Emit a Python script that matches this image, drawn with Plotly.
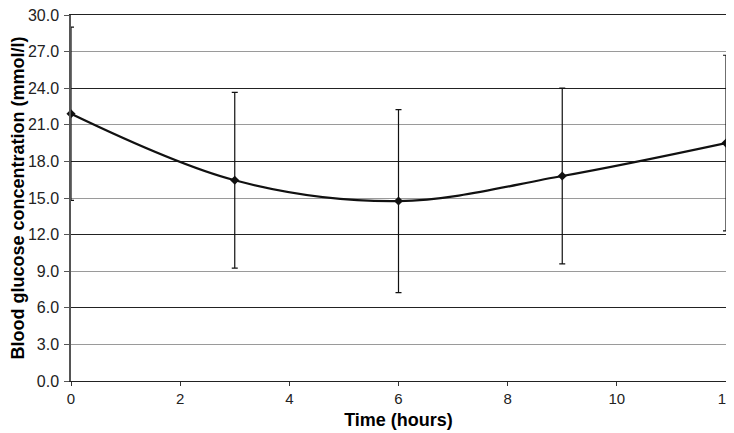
import plotly.graph_objects as go

# Blood glucose over time
time_h = [0, 3, 6, 9, 12]
glucose = [21.9, 16.45, 14.75, 16.8, 19.5]
glucose_err = [7.1, 7.2, 7.5, 7.2, 7.2]

y_ticks = [0, 3, 6, 9, 12, 15, 18, 21, 24, 27, 30]
x_ticks = [0, 2, 4, 6, 8, 10, 12]

fig = go.Figure()

fig.add_trace(
    go.Scatter(
        x=time_h,
        y=glucose,
        mode="lines+markers",
        line=dict(color="#111111", width=2.2, shape="spline", smoothing=1),
        marker=dict(symbol="diamond", size=7, color="#111111"),
        error_y=dict(
            type="data",
            array=glucose_err,
            visible=True,
            color="#111111",
            thickness=1.2,
            width=3,
        ),
        cliponaxis=False,
        showlegend=False,
    )
)

ytick_font = dict(family="Liberation Sans, Arial, sans-serif", size=16, color="#222222")
xtick_font = dict(family="Liberation Sans, Arial, sans-serif", size=15, color="#222222")
title_font = dict(family="Liberation Sans, Arial, sans-serif", size=18, color="#000000")

# the page body adds an 8px margin, so everything is placed 8px in from the window
fig.update_layout(
    width=734,
    height=425,
    margin=dict(l=63, r=16, t=7, b=52, autoexpand=False),
    plot_bgcolor="white",
    paper_bgcolor="white",
    xaxis=dict(
        range=[0, 12],
        tickvals=x_ticks,
        ticks="outside",
        ticklen=4,
        tickcolor="#333333",
        showgrid=False,
        zeroline=False,
        showline=True,
        mirror=True,
        linecolor="#222222",
        linewidth=1.3,
        tickfont=xtick_font,
        ticklabeloverflow="allow",
        automargin=False,
        title=dict(text="<b>Time (hours)</b>", font=title_font, standoff=7),
    ),
    yaxis=dict(
        range=[0, 30],
        tickvals=y_ticks,
        tickformat=".1f",
        ticks="outside",
        ticklen=5,
        ticklabelstandoff=2,
        tickcolor="#555555",
        showgrid=True,
        gridcolor="#9a9a9a",
        gridwidth=1.2,
        zeroline=False,
        showline=True,
        linecolor="#555555",
        linewidth=1.5,
        tickfont=ytick_font,
        ticklabeloverflow="allow",
        automargin=False,
        title=dict(
            text="<b>Blood glucose concentration (mmol/l)</b>",
            font=title_font,
            standoff=4,
        ),
    ),
    # overlay axis carrying the darker gridlines every 6 units
    yaxis2=dict(
        range=[0, 30],
        overlaying="y",
        dtick=6,
        tick0=0,
        showgrid=True,
        gridcolor="#222222",
        gridwidth=1.1,
        showticklabels=False,
        ticks="",
        zeroline=False,
        showline=False,
        automargin=False,
    ),
)

# dummy invisible trace so the overlay axis is drawn
fig.add_trace(
    go.Scatter(x=[0], y=[0], yaxis="y2", mode="markers",
               marker=dict(opacity=0), hoverinfo="skip", showlegend=False)
)

fig.write_html("out.html")
